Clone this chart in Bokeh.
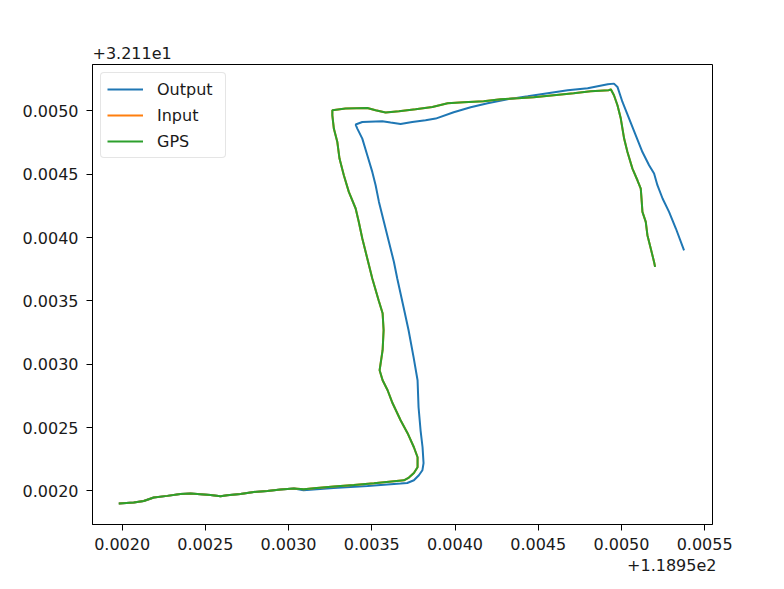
from bokeh.plotting import figure
from bokeh.models import Range1d, FixedTicker, PrintfTickFormatter, Title, Legend
from bokeh.embed import file_html
from bokeh.resources import INLINE

# ---- data (offsets from X_OFFSET / Y_OFFSET, as shown on the axes) ----
X_OFFSET_TEXT = "+1.1895e2"
Y_OFFSET_TEXT = "+3.211e1"

X_TICKS = [0.0020, 0.0025, 0.0030, 0.0035, 0.0040, 0.0045, 0.0050, 0.0055]
Y_TICKS = [0.0020, 0.0025, 0.0030, 0.0035, 0.0040, 0.0045, 0.0050]
X_LIMITS = (0.001822, 0.005547)
Y_LIMITS = (0.001735, 0.005367)

series_names = ["Output", "Input", "GPS"]

gps_x = [0.001980, 0.002070, 0.002130, 0.002190, 0.002271, 0.002350, 0.002411,
         0.002471, 0.002531, 0.002591, 0.002631, 0.002711, 0.002791, 0.002872,
         0.002952, 0.003032, 0.003092, 0.003152, 0.003272, 0.003392, 0.003513,
         0.003633, 0.003693, 0.003723, 0.003753, 0.003775, 0.003775, 0.003753,
         0.003715, 0.003673, 0.003625, 0.003595, 0.003565, 0.003547, 0.003565,
         0.003571, 0.003565, 0.003541, 0.003503, 0.003473, 0.003443, 0.003422,
         0.003403, 0.003362, 0.003332, 0.003306, 0.003293, 0.003272, 0.003263,
         0.003263, 0.003342, 0.003473, 0.003523, 0.003583, 0.003663, 0.003763,
         0.003864, 0.003956, 0.004052, 0.004172, 0.004274, 0.004377, 0.004473,
         0.004593, 0.004713, 0.004815, 0.004924, 0.004936, 0.004955, 0.004976,
         0.004996, 0.005016, 0.005036, 0.005066, 0.005096, 0.005116, 0.005122,
         0.005126, 0.005146, 0.005156, 0.005176, 0.005196, 0.005202]
gps_y = [0.001901, 0.001908, 0.001921, 0.001948, 0.001961, 0.001976, 0.001979,
         0.001974, 0.001968, 0.001958, 0.001966, 0.001976, 0.001992, 0.002000,
         0.002011, 0.002019, 0.002013, 0.002021, 0.002035, 0.002047, 0.002061,
         0.002077, 0.002084, 0.002106, 0.002142, 0.002187, 0.002266, 0.002345,
         0.002456, 0.002558, 0.002692, 0.002795, 0.002874, 0.002953, 0.003111,
         0.003269, 0.003403, 0.003506, 0.003677, 0.003835, 0.003993, 0.004124,
         0.004230, 0.004361, 0.004492, 0.004624, 0.004755, 0.004861, 0.004966,
         0.005006, 0.005019, 0.005024, 0.005006, 0.004988, 0.004998, 0.005014,
         0.005032, 0.005061, 0.005069, 0.005077, 0.005093, 0.005100, 0.005108,
         0.005124, 0.005140, 0.005156, 0.005164, 0.005171, 0.005124, 0.005045,
         0.004940, 0.004782, 0.004676, 0.004545, 0.004453, 0.004387, 0.004282,
         0.004203, 0.004124, 0.004019, 0.003914, 0.003808, 0.003769]

# Input coincides with GPS (hidden underneath it)
input_x = list(gps_x)
input_y = list(gps_y)

output_x = [0.001980, 0.002070, 0.002130, 0.002190, 0.002271, 0.002350, 0.002411,
            0.002471, 0.002531, 0.002591, 0.002631, 0.002711, 0.002791, 0.002872,
            0.002952, 0.003032, 0.003090, 0.003270, 0.003475, 0.003673, 0.003713,
            0.003753, 0.003783, 0.003804, 0.003811, 0.003805, 0.003793, 0.003781,
            0.003775, 0.003751, 0.003721, 0.003691, 0.003653, 0.003633, 0.003603,
            0.003573, 0.003543, 0.003523, 0.003503, 0.003473, 0.003443, 0.003413,
            0.003403, 0.003443, 0.003563, 0.003613, 0.003673, 0.003743, 0.003823,
            0.003884, 0.003992, 0.004094, 0.004196, 0.004316, 0.004437, 0.004557,
            0.004677, 0.004797, 0.004918, 0.004955, 0.004976, 0.005006, 0.005046,
            0.005086, 0.005126, 0.005166, 0.005196, 0.005216, 0.005247, 0.005286,
            0.005327, 0.005376]
output_y = [0.001901, 0.001908, 0.001921, 0.001948, 0.001961, 0.001976, 0.001979,
            0.001974, 0.001968, 0.001958, 0.001966, 0.001976, 0.001992, 0.002000,
            0.002011, 0.002019, 0.002006, 0.002024, 0.002039, 0.002058, 0.002063,
            0.002084, 0.002124, 0.002163, 0.002219, 0.002345, 0.002479, 0.002661,
            0.002874, 0.003056, 0.003269, 0.003450, 0.003677, 0.003808, 0.003966,
            0.004124, 0.004282, 0.004414, 0.004519, 0.004650, 0.004782, 0.004861,
            0.004893, 0.004913, 0.004919, 0.004909, 0.004898, 0.004913, 0.004927,
            0.004940, 0.004990, 0.005029, 0.005061, 0.005093, 0.005116, 0.005140,
            0.005164, 0.005179, 0.005211, 0.005216, 0.005190, 0.005071, 0.004940,
            0.004808, 0.004676, 0.004571, 0.004506, 0.004414, 0.004309, 0.004203,
            0.004072, 0.003900]

colors = ["#1f77b4", "#ff7f0e", "#2ca02c"]
FONT = "DejaVu Sans"

p = figure(frame_width=620, frame_height=460,
           x_range=Range1d(*X_LIMITS), y_range=Range1d(*Y_LIMITS),
           output_backend="svg", toolbar_location=None,
           min_border_left=92, min_border_right=60,
           min_border_top=64, min_border_bottom=60)

p.background_fill_color = "white"
p.border_fill_color = "white"
p.outline_line_color = "black"
p.outline_line_width = 1
p.xgrid.grid_line_color = None
p.ygrid.grid_line_color = None

for ax, ticks in ((p.xaxis, X_TICKS), (p.yaxis, Y_TICKS)):
    ax.ticker = FixedTicker(ticks=ticks)
    ax.formatter = PrintfTickFormatter(format="%.4f")
    ax.major_tick_in = 0
    ax.major_tick_out = 6
    ax.minor_tick_line_color = None
    ax.axis_line_color = "black"
    ax.major_tick_line_color = "black"
    ax.major_label_text_font = FONT
    ax.major_label_text_font_size = "16px"
    ax.major_label_text_color = "#1a1a1a"
p.xaxis.major_label_standoff = 7
p.yaxis.major_label_standoff = 8

series = [(output_x, output_y), (input_x, input_y), (gps_x, gps_y)]
for name, (xs, ys), c in zip(series_names, series, colors):
    p.line(xs, ys, line_color=c, line_width=2, legend_label=name)

leg = p.legend[0]
leg.location = "top_left"
leg.margin = 8
leg.padding = 6
leg.spacing = 6
leg.glyph_width = 36
leg.glyph_height = 20
leg.label_height = 20
leg.label_width = 62
leg.label_standoff = 14
leg.label_text_font = FONT
leg.label_text_font_size = "16px"
leg.label_text_color = "#1a1a1a"
leg.border_line_color = "#cccccc"
leg.border_line_width = 1
leg.background_fill_alpha = 0.8
if "border_radius" in Legend.properties():
    leg.border_radius = 4

p.title.text = Y_OFFSET_TEXT
p.title.align = "left"
p.title.text_font = FONT
p.title.text_font_size = "16px"
p.title.text_font_style = "normal"
p.title.text_color = "#1a1a1a"
p.title.standoff = 12

p.add_layout(Title(text=X_OFFSET_TEXT, align="right", text_font=FONT,
                   text_font_size="16px", text_font_style="normal",
                   text_color="#1a1a1a", standoff=8, offset=-4), "below")

open("out.html", "w").write(file_html(p, INLINE))
